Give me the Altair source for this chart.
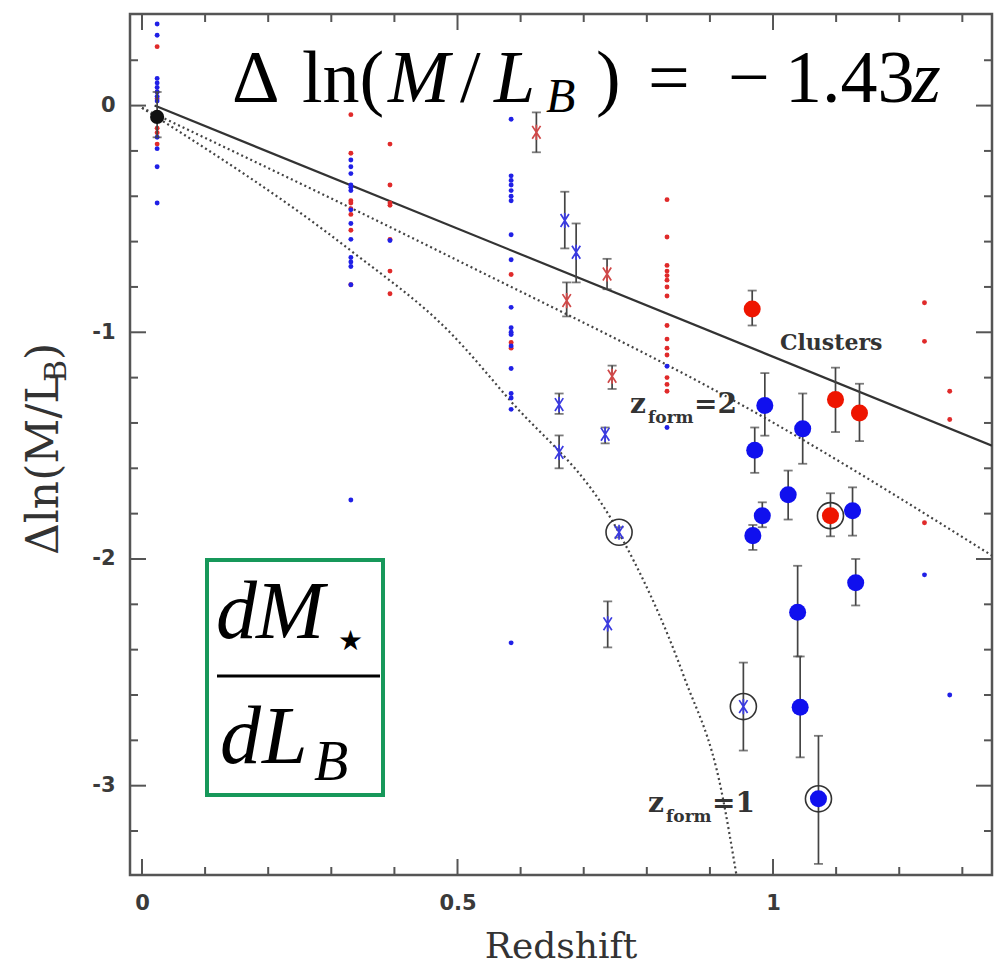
import altair as alt
import pandas as pd

# ---------------- data ----------------
# small dots: individual galaxies, grouped in redshift columns
red_dot_cols = [0.024, 0.331, 0.393, 0.585, 0.832, 1.240, 1.280]
red_dot_vals = [
    [0.26, 0.06, 0.03, -0.03, -0.10, -0.12, -0.17],
    [-0.04, -0.21, -0.42, -0.43, -0.455, -0.48, -0.55, -0.79],
    [-0.17, -0.35, -0.43, -0.44, -0.59, -0.73, -0.83],
    [-0.745, -1.045, -1.07],
    [-0.415, -0.58, -0.705, -0.73, -0.75, -0.77, -0.80, -0.84, -0.97, -1.03,
     -1.07, -1.10, -1.20, -1.23, -1.26],
    [-0.87, -1.04, -1.84],
    [-1.26, -1.385],
]
blue_dot_cols = [0.024, 0.331, 0.393, 0.585, 0.832, 1.240, 1.280]
blue_dot_vals = [
    [0.36, 0.31, 0.12, 0.10, 0.08, 0.06, 0.04, 0.02, -0.14, -0.19, -0.27, -0.43],
    [-0.24, -0.27, -0.30, -0.35, -0.36, -0.375, -0.46, -0.52, -0.59, -0.67,
     -0.69, -0.71, -0.79, -1.74],
    [-0.595],
    [-0.06, -0.31, -0.33, -0.35, -0.375, -0.40, -0.42, -0.57, -0.68, -0.89,
     -0.98, -1.00, -1.01, -1.06, -1.16, -1.27, -1.29, -1.34, -2.37],
    [-1.15, -1.42],
    [-2.07],
    [-2.60],
]

# asterisks with error bars
ast_x = [0.625, 0.673, 0.737, 0.745, 0.670, 0.688, 0.661, 0.734, 0.661, 0.756, 0.738, 0.953]
ast_y = [-0.118, -0.86, -0.743, -1.194, -0.507, -0.647, -1.319, -1.45, -1.53, -1.882, -2.286, -2.651]
ast_hi = [-0.03, -0.78, -0.676, -1.147, -0.38, -0.52, -1.27, -1.42, -1.455, -1.86, -2.187, -2.457]
ast_lo = [-0.206, -0.93, -0.81, -1.25, -0.63, -0.78, -1.36, -1.49, -1.60, -1.905, -2.39, -2.845]
ast_c = ["red"] * 4 + ["blue"] * 8

# large filled circles with error bars
big_x = [0.967, 1.099, 1.137, 1.091, 0.987, 1.047, 0.971, 1.024, 0.983, 0.968,
         1.126, 1.131, 1.039, 1.043, 1.072]
big_y = [-0.897, -1.297, -1.356, -1.809, -1.323, -1.426, -1.52, -1.717, -1.809, -1.897,
         -1.787, -2.105, -2.235, -2.654, -3.058]
big_hi = [-0.816, -1.156, -1.227, -1.71, -1.18, -1.27, -1.42, -1.61, -1.75, -1.85,
          -1.684, -2.0, -2.03, -2.43, -2.78]
big_lo = [-0.97, -1.44, -1.48, -1.90, -1.456, -1.58, -1.62, -1.826, -1.86, -1.96,
          -1.897, -2.205, -2.43, -2.875, -3.345]
big_c = ["red"] * 4 + ["blue"] * 11

# local (z ~ 0) reference point
loc_x = [0.024]
loc_y = [-0.05]
loc_hi = [0.06]
loc_lo = [-0.14]

# circled objects
ring_x = [0.756, 0.953, 1.091, 1.072]
ring_y = [-1.882, -2.651, -1.809, -3.058]

# model lines
cl_x = [0.02, 1.347]
cl_y = [0.0, -1.50]
z2_x = [0.0, 0.49, 0.986, 1.347]
z2_y = [-0.01, -0.669, -1.376, -1.985]
z1_x = [0.0, 0.331, 0.49, 0.579, 0.754, 0.859, 0.918, 0.942]
z1_y = [-0.01, -0.64, -1.006, -1.287, -1.875, -2.52, -3.02, -3.394]

# ticks
x_major = [0.0, 0.5, 1.0]
x_minor = [0.1, 0.2, 0.3, 0.4, 0.6, 0.7, 0.8, 0.9, 1.1, 1.2, 1.3]
y_major = [0.0, -1.0, -2.0, -3.0]
y_minor = [0.2, -0.2, -0.4, -0.6, -0.8, -1.2, -1.4, -1.6, -1.8, -2.2, -2.4, -2.6,
           -2.8, -3.2]

# ---------------- tables ----------------
def flatten(cols, vals):
    xs, ys = [], []
    for c, v in zip(cols, vals):
        xs += [c] * len(v)
        ys += v
    return pd.DataFrame({"x": xs, "y": ys})

red_dots = flatten(red_dot_cols, red_dot_vals)
blue_dots = flatten(blue_dot_cols, blue_dot_vals)
ast = pd.DataFrame({"x": ast_x, "y": ast_y, "hi": ast_hi, "lo": ast_lo, "c": ast_c})
big = pd.DataFrame({"x": big_x, "y": big_y, "hi": big_hi, "lo": big_lo, "c": big_c})
loc = pd.DataFrame({"x": loc_x, "y": loc_y, "hi": loc_hi, "lo": loc_lo})
rings = pd.DataFrame({"x": ring_x, "y": ring_y})
clusters = pd.DataFrame({"x": cl_x, "y": cl_y})
zf2 = pd.DataFrame({"x": z2_x, "y": z2_y})
zf1 = pd.DataFrame({"x": z1_x, "y": z1_y})
one = pd.DataFrame({"k": [0]})

# ---------------- layout ----------------
W, H = 862, 861
OX, OY = 130, 14
xs = alt.Scale(domain=[-0.019, 1.347], nice=False, zero=False)
ys = alt.Scale(domain=[-3.394, 0.404], nice=False, zero=False)
xa = alt.Axis(values=x_major, labelExpr="'' + datum.value", title=None, domain=False,
              ticks=False, grid=False, labelFont="DejaVu Sans", labelFontSize=21,
              labelFontWeight="bold", labelColor="#3a3a3a", labelPadding=17)
ya = alt.Axis(values=y_major, labelExpr="'' + datum.value", title=None, domain=False,
              ticks=False, grid=False, labelFont="DejaVu Sans", labelFontSize=21,
              labelFontWeight="bold", labelColor="#3a3a3a", labelPadding=15)

X = lambda f="x": alt.X(f"{f}:Q", scale=xs, axis=xa)
Y = lambda f="y": alt.Y(f"{f}:Q", scale=ys, axis=ya)

TICK = "#555555"
layers = []

# inward ticks on all four sides
for vals, ln in ((x_major, 16), (x_minor, 8)):
    d = pd.DataFrame({"x": vals})
    layers.append(alt.Chart(d).mark_rule(color=TICK, strokeWidth=2).encode(
        x=X(), y=alt.value(H), y2=alt.value(H - ln)))
    layers.append(alt.Chart(d).mark_rule(color=TICK, strokeWidth=2).encode(
        x=X(), y=alt.value(0), y2=alt.value(ln)))
for vals, ln in ((y_major, 16), (y_minor, 8)):
    d = pd.DataFrame({"y": vals})
    layers.append(alt.Chart(d).mark_rule(color=TICK, strokeWidth=2).encode(
        y=Y(), x=alt.value(0), x2=alt.value(ln)))
    layers.append(alt.Chart(d).mark_rule(color=TICK, strokeWidth=2).encode(
        y=Y(), x=alt.value(W), x2=alt.value(W - ln)))

# model lines
layers.append(alt.Chart(clusters).mark_line(color="#333333", strokeWidth=2.2, clip=True)
              .encode(x=X(), y=Y()))
for d in (zf2, zf1):
    layers.append(alt.Chart(d).mark_line(color="#444444", strokeWidth=2.2, strokeDash=[2, 3],
                                         interpolate="monotone", clip=True)
                  .encode(x=X(), y=Y()))

# small dots
layers.append(alt.Chart(red_dots).mark_circle(color="#e02a2a", size=24, opacity=1)
              .encode(x=X(), y=Y()))
layers.append(alt.Chart(blue_dots).mark_circle(color="#2020e6", size=24, opacity=1)
              .encode(x=X(), y=Y()))

# error bars
EB = "#444444"
for d in (ast, big, loc):
    layers.append(alt.Chart(d).mark_rule(color=EB, strokeWidth=1.7)
                  .encode(x=X(), y=Y("lo"), y2="hi:Q"))
    for f in ("lo", "hi"):
        layers.append(alt.Chart(d).mark_tick(orient="horizontal", color=EB, size=9,
                                             thickness=1.8)
                      .encode(x=X(), y=Y(f)))

# asterisks
ASTER = "M0,-1L0,1M-0.55,-0.85L0.55,0.85M-0.55,0.85L0.55,-0.85"
layers.append(alt.Chart(ast).mark_point(shape=ASTER, filled=False, size=230, strokeWidth=1.7,
                                        opacity=1)
              .encode(x=X(), y=Y(),
                      color=alt.Color("c:N", scale=alt.Scale(domain=["red", "blue"],
                                                             range=["#d04848", "#3a3ae0"]),
                                      legend=None)))

# big circles
layers.append(alt.Chart(big).mark_point(shape="circle", filled=True, size=290, opacity=1)
              .encode(x=X(), y=Y(),
                      fill=alt.Fill("c:N", scale=alt.Scale(domain=["red", "blue"],
                                                           range=["#ee1500", "#1010ee"]),
                                    legend=None)))
layers.append(alt.Chart(loc).mark_point(shape="circle", filled=True, size=200, opacity=1,
                                        color="#111111")
              .encode(x=X(), y=Y()))

# rings
layers.append(alt.Chart(rings).mark_point(shape="circle", filled=False, size=680,
                                          strokeWidth=1.6, color="#333333", opacity=1)
              .encode(x=X(), y=Y()))


# ---------------- annotations ----------------
def txt(s, x, y, size, font="Liberation Serif", style="normal", weight="normal",
        color="#000000", angle=0, align="left"):
    return alt.Chart(one).mark_text(text=s, font=font, fontSize=size, fontStyle=style,
                                    fontWeight=weight, color=color, angle=angle,
                                    align=align, baseline="alphabetic").encode(
        x=alt.value(x - OX), y=alt.value(y - OY))


GRAY = "#333333"
# model labels
layers += [
    txt("Clusters", 780, 350, 22, font="DejaVu Serif", weight="bold", color=GRAY),
    txt("z", 630, 413, 28, font="DejaVu Serif", weight="bold", color=GRAY),
    txt("form", 648, 423, 17, font="DejaVu Serif", weight="bold", color=GRAY),
    txt("=2", 694, 413, 28, font="DejaVu Serif", weight="bold", color=GRAY),
    txt("z", 648, 812, 28, font="DejaVu Serif", weight="bold", color=GRAY),
    txt("form", 666, 822, 17, font="DejaVu Serif", weight="bold", color=GRAY),
    txt("=1", 712, 812, 28, font="DejaVu Serif", weight="bold", color=GRAY),
]

# axis titles
layers.append(txt("Redshift", OX + W / 2, 958, 36, font="DejaVu Serif", color=GRAY,
                  align="center"))
layers += [
    txt("\u0394ln(M/L", 58, 555, 44, font="DejaVu Serif", color=GRAY, angle=270),
    txt("B", 66, 382, 30, font="DejaVu Serif", color=GRAY, angle=270),
    txt(")", 58, 360, 44, font="DejaVu Serif", color=GRAY, angle=270),
]

# big equation
EQ = 74
layers += [
    txt("\u0394", 232, 102, EQ),
    txt("ln(", 302, 102, EQ),
    txt("M", 388, 102, EQ, style="italic"),
    txt("/", 460, 102, EQ),
    txt("L", 494, 102, EQ, style="italic"),
    txt("B", 546, 112, 48, style="italic"),
    txt(")", 596, 102, EQ),
    txt("=", 648, 102, EQ),
    txt("\u2212", 728, 102, EQ),
    txt("1.43", 785, 102, EQ),
    txt("z", 912, 102, EQ, style="italic"),
]

# boxed dM*/dL_B
layers += [
    alt.Chart(one).mark_rect(fillOpacity=0, stroke="#17985a", strokeWidth=4).encode(
        x=alt.value(207 - OX), x2=alt.value(383 - OX),
        y=alt.value(560 - OY), y2=alt.value(795 - OY)),
    alt.Chart(one).mark_rule(color="#000000", strokeWidth=3).encode(
        x=alt.value(217 - OX), x2=alt.value(380 - OX), y=alt.value(676 - OY)),
    txt("d", 216, 638, 82, style="italic"),
    txt("M", 256, 638, 82, style="italic"),
    txt("\u2605", 338, 650, 28, font="DejaVu Sans"),
    txt("d", 220, 763, 82, style="italic"),
    txt("L", 262, 763, 82, style="italic"),
    txt("B", 314, 780, 56, style="italic"),
]

chart = alt.layer(*layers).resolve_scale(color="independent", fill="independent").properties(
    width=W, height=H,
    autosize=alt.AutoSizeParams(type="none"),
    padding={"left": OX, "top": OY, "right": 1001 - OX - W, "bottom": 969 - OY - H},
    background="white",
).configure_view(stroke="#555555", strokeWidth=2.5)

chart.save("out.html", embed_options={"renderer": "svg", "actions": False})
